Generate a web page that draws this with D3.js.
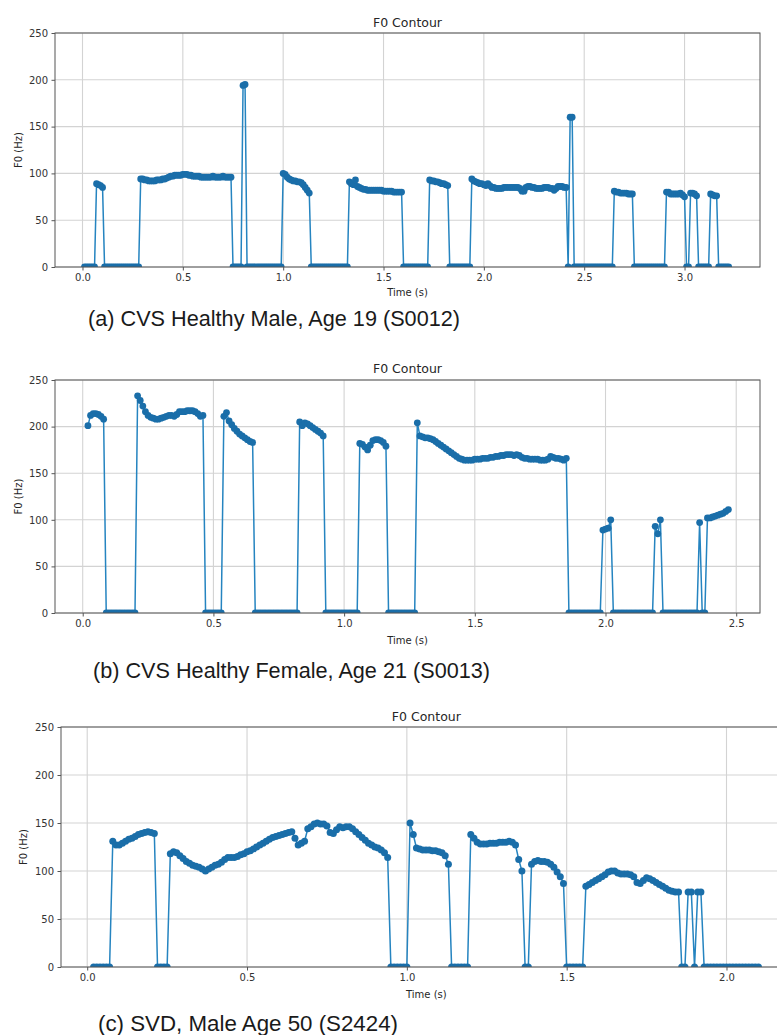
<!DOCTYPE html>
<html>
<head>
<meta charset="UTF-8">
<title>F0 Contour</title>
<script src="https://d3js.org/d3.v7.min.js"></script>
<style>
  body { margin: 0; background: #fff; }
  svg { display: block; }
  .tick text { font-family: "DejaVu Sans", sans-serif; font-size: 10px; fill: #333; }
  .lbl { font-family: "DejaVu Sans", sans-serif; fill: #262626; }
  .cap { font-family: "Liberation Sans", Arial, sans-serif; font-size: 22px; fill: #1a1a1a; }
</style>
</head>
<body>
<svg id="chart" width="777" height="1035"></svg>
<script>
// frame hop of the pitch tracker (s)
const hop = 0.01;

const yTicks = [0, 50, 100, 150, 200, 250];
const xTicksA = [0, 0.5, 1, 1.5, 2, 2.5, 3];
const xTicksB = [0, 0.5, 1, 1.5, 2, 2.5];
const xTicksC = [0, 0.5, 1, 1.5, 2];

const captions = [
  "(a) CVS Healthy Male, Age 19 (S0012)",
  "(b) CVS Healthy Female, Age 21 (S0013)",
  "(c) SVD, Male Age 50 (S2424)"
];

// runs of frames: [start time (s), F0 values (Hz), one per hop]; 0 = unvoiced
const f0A = [
  [0.01, [0,0,0,0,0,0]],
  [0.07, [89,88,87,85]],
  [0.11, [0,0,0,0,0,0,0,0,0,0,0,0,0,0,0,0,0,0]],
  [0.29, [94,94,93,93,92,92,92,92,93,93,93,94,94,95,96,97,97,98,98,98,98,99,99,99,98,98,97,97,97,97,96,96,96,96,96,96,97,96,96,96,96,97,96,96,96,96]],
  [0.75, [0,0,0,0,0]],
  [0.80, [194,195]],
  [0.82, [0,0,0,0,0,0,0,0,0,0,0,0,0,0,0,0,0,0]],
  [1.00, [100,99,96,94,93,92,92,91,91,90,88,85,82,79]],
  [1.14, [0,0,0,0,0,0,0,0,0,0,0,0,0,0,0,0,0,0,0]],
  [1.33, [91,89,88,93,86,85,84,83,83,82,82,82,82,82,82,82,82,81,81,81,81,81,80,80,80,80,80]],
  [1.60, [0,0,0,0,0,0,0,0,0,0,0,0,0]],
  [1.73, [93,92,92,91,91,90,89,89,88,87]],
  [1.83, [0,0,0,0,0,0,0,0,0,0,0]],
  [1.94, [94,92,91,90,89,89,88,87,89,87,85,85,84,84,84,84,85,85,85,85,85,85,85,85,84,81,81,85,86,86,85,85,84,84,84,84,85,85,85,84,84,82,84,86,86,86,85,85]],
  [2.42, [0]],
  [2.43, [160,160]],
  [2.45, [0,0,0,0,0,0,0,0,0,0,0,0,0,0,0,0,0,0,0,0]],
  [2.65, [81,80,80,79,79,79,79,78,78,78]],
  [2.75, [0,0,0,0,0,0,0,0,0,0,0,0,0,0,0,0]],
  [2.91, [80,80,78,78,78,78,78,79,77,75]],
  [3.01, [0,0]],
  [3.03, [79,79,78,76]],
  [3.07, [0,0,0,0,0,0]],
  [3.13, [78,77,76,76]],
  [3.17, [0,0,0,0,0,0]]
];

const f0B = [
  [0.02, [201,212,214,214,213,211,208]],
  [0.09, [0,0,0,0,0,0,0,0,0,0,0,0]],
  [0.21, [233,228,222,216,212,210,209,208,208,209,210,211,212,212,211,213,216,216,216,217,217,217,216,214,211,212]],
  [0.47, [0,0,0,0,0,0,0]],
  [0.54, [211,215,206,202,198,195,192,190,188,186,184,183]],
  [0.66, [0,0,0,0,0,0,0,0,0,0,0,0,0,0,0,0,0]],
  [0.83, [205,201,204,203,201,199,197,195,193,190]],
  [0.93, [0,0,0,0,0,0,0,0,0,0,0,0,0]],
  [1.06, [182,181,178,175,180,185,186,186,185,183,179]],
  [1.17, [0,0,0,0,0,0,0,0,0,0,0]],
  [1.28, [204,190,189,188,188,187,186,184,182,180,178,176,174,172,170,168,166,165,164,164,164,164,165,165,165,166,166,166,167,167,168,168,169,169,170,170,170,169,170,169,167,166,166,165,165,165,165,164,164,164,165,168,167,166,166,165,164,166]],
  [1.86, [0,0,0,0,0,0,0,0,0,0,0,0,0]],
  [1.99, [89,90,91,100]],
  [2.03, [0,0,0,0,0,0,0,0,0,0,0,0,0,0,0,0]],
  [2.19, [93,85,100]],
  [2.22, [0,0,0,0,0,0,0,0,0,0,0,0,0,0]],
  [2.36, [97]],
  [2.37, [0,0]],
  [2.39, [102,102,103,104,105,106,107,109,111]]
];

const f0C = [
  [0.02, [0,0,0,0,0,0]],
  [0.08, [131,127,127,129,131,133,134,136,138,139,140,141,140,139]],
  [0.22, [0,0,0,0]],
  [0.26, [118,120,119,116,113,110,108,106,105,104,102,100,102,104,106,107,109,112,114,114,114,115,117,118,120,121,123,125,127,129,131,133,135,136,137,138,139,140,141,134,127,129,131,144,146,149,150,149,149,147,140,139,143,146,145,146,146,144,141,138,135,132,129,127,125,124,122,119,114]],
  [0.95, [0,0,0,0,0,0]],
  [1.01, [150,138,124,123,122,122,122,121,121,120,119,116,107]],
  [1.14, [0,0,0,0,0,0]],
  [1.20, [138,134,130,128,128,128,129,129,129,130,130,130,131,130,127,112,100]],
  [1.37, [0,0]],
  [1.39, [107,110,111,110,110,109,107,104,99,94,87]],
  [1.50, [0,0,0,0,0,0]],
  [1.56, [84,86,88,90,92,94,96,99,100,100,98,97,97,97,96,94,88,87,90,93,92,90,88,86,84,82,80,79,78,78]],
  [1.86, [0,0]],
  [1.88, [78,78]],
  [1.90, [0]],
  [1.91, [78,78]],
  [1.93, [0,0,0,0,0,0,0,0,0,0,0,0,0,0,0,0,0,0]]
];

const lineColor = "#2584c0";
const markColor = "#1a6ea9";

const panels = [
  { runs: f0A, xTicks: xTicksA, caption: captions[0], xDomain: [-0.137, 3.376],
    left: 55, right: 760, top: 33, bottom: 267, titleY: 27, xlabY: 296, ylabX: 21.5,
    capX: 88, capY: 326, capW: 372, r: 3.4 },
  { runs: f0B, xTicks: xTicksB, caption: captions[1], xDomain: [-0.106, 2.591],
    left: 55, right: 760, top: 380, bottom: 613, titleY: 373, xlabY: 644, ylabX: 21.5,
    capX: 93, capY: 678, capW: 397, r: 3.4 },
  { runs: f0C, xTicks: xTicksC, caption: captions[2], xDomain: [-0.082, 2.204],
    left: 61, right: 791.7, top: 727, bottom: 967, titleY: 721, xlabY: 998, ylabX: 26.5,
    capX: 98, capY: 1031, capW: 300, r: 3.5 }
];

const svg = d3.select("#chart");

panels.forEach((p, k) => {
  const g = svg.append("g");
  const x = d3.scaleLinear().domain(p.xDomain).range([p.left, p.right]);
  const y = d3.scaleLinear().domain([0, 250]).range([p.bottom, p.top]);

  // grid
  g.append("g").selectAll("line").data(p.xTicks).join("line")
    .attr("x1", d => x(d)).attr("x2", d => x(d))
    .attr("y1", p.top).attr("y2", p.bottom)
    .attr("stroke", "#d3d3d3").attr("stroke-width", 1.1);
  g.append("g").selectAll("line").data(yTicks).join("line")
    .attr("x1", p.left).attr("x2", p.right)
    .attr("y1", d => y(d)).attr("y2", d => y(d))
    .attr("stroke", "#d3d3d3").attr("stroke-width", 1.1);

  const pts = p.runs.flatMap(([t0, vals]) =>
    vals.map((v, i) => ({ t: +(t0 + i * hop).toFixed(3), v })));

  const clipId = "clip" + k;
  svg.append("clipPath").attr("id", clipId).append("rect")
    .attr("x", p.left).attr("y", p.top)
    .attr("width", p.right - p.left).attr("height", p.bottom - p.top);

  const plot = g.append("g").attr("clip-path", `url(#${clipId})`);
  plot.append("path").datum(pts)
    .attr("fill", "none").attr("stroke", lineColor).attr("stroke-width", 1.5)
    .attr("d", d3.line().x(d => x(d.t)).y(d => y(d.v)));
  plot.append("g").selectAll("circle").data(pts).join("circle")
    .attr("cx", d => x(d.t)).attr("cy", d => y(d.v)).attr("r", p.r)
    .attr("fill", markColor);

  // spines
  g.append("rect")
    .attr("x", p.left).attr("y", p.top)
    .attr("width", p.right - p.left).attr("height", p.bottom - p.top)
    .attr("fill", "none").attr("stroke", "#555").attr("stroke-width", 1);

  const xAxis = g.append("g").attr("transform", `translate(0,${p.bottom})`)
    .call(d3.axisBottom(x).tickValues(p.xTicks).tickFormat(d3.format(".1f"))
      .tickSize(3.5).tickPadding(3.5));
  const yAxis = g.append("g").attr("transform", `translate(${p.left},0)`)
    .call(d3.axisLeft(y).tickValues(yTicks).tickSize(3.5).tickPadding(3.5));
  [xAxis, yAxis].forEach(a => {
    a.select(".domain").remove();
    a.selectAll(".tick line").attr("stroke", "#555");
    a.selectAll(".tick text").attr("font-family", null).attr("font-size", null);
  });

  g.append("text").attr("class", "lbl")
    .attr("x", (p.left + p.right) / 2).attr("y", p.titleY)
    .attr("text-anchor", "middle").attr("font-size", 12.5)
    .text("F0 Contour");
  g.append("text").attr("class", "lbl")
    .attr("x", (p.left + p.right) / 2).attr("y", p.xlabY)
    .attr("text-anchor", "middle").attr("font-size", 10)
    .text("Time (s)");
  g.append("text").attr("class", "lbl")
    .attr("transform", `translate(${p.ylabX},${(p.top + p.bottom) / 2}) rotate(-90)`)
    .attr("text-anchor", "middle").attr("font-size", 10)
    .text("F0 (Hz)");

  g.append("text").attr("class", "cap")
    .attr("x", p.capX).attr("y", p.capY)
    .attr("textLength", p.capW).attr("lengthAdjust", "spacingAndGlyphs")
    .text(p.caption);
});
</script>
</body>
</html>
